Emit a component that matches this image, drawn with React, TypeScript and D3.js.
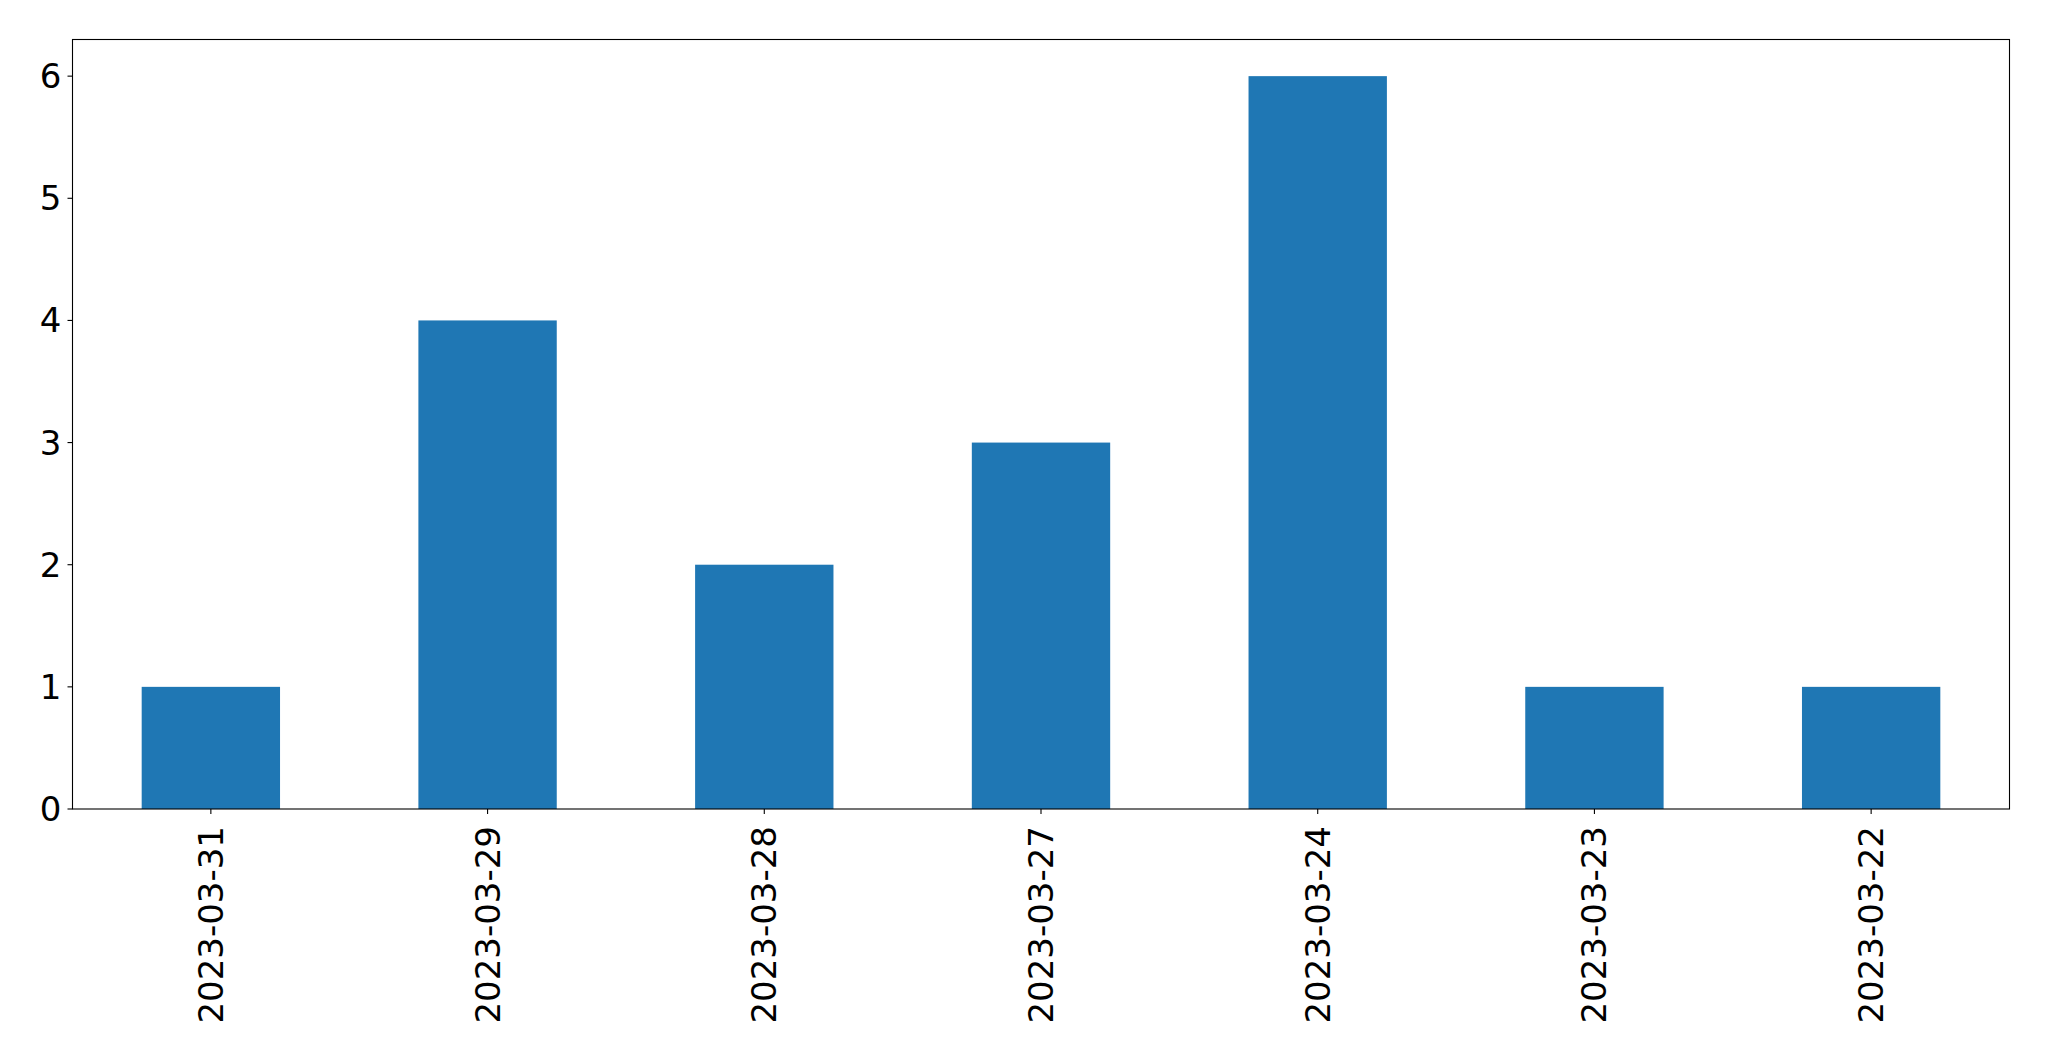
import * as d3 from "d3";
import React from "react";

// dates as they appear on the x axis (newest first)
const dates = [
  "2023-03-31",
  "2023-03-29",
  "2023-03-28",
  "2023-03-27",
  "2023-03-24",
  "2023-03-23",
  "2023-03-22",
];
const counts = [1, 4, 2, 3, 6, 1, 1];
const yTicks = [0, 1, 2, 3, 4, 5, 6];

const width = 2049;
const height = 1061;
const margin = { top: 39.5, right: 39.5, bottom: 252, left: 72.5 };
const fontSize = 34;
const barColor = "#1f77b4";

export default function App() {
  const innerW = width - margin.left - margin.right;
  const innerH = height - margin.top - margin.bottom;

  // pandas-style positional x: bars at 0..n-1, width 0.5, limits -0.5..n-0.5
  const x = d3
    .scaleLinear()
    .domain([-0.5, dates.length - 0.5])
    .range([margin.left, margin.left + innerW]);
  const yMax = (d3.max(counts) ?? 0) * 1.05;
  const y = d3
    .scaleLinear()
    .domain([0, yMax])
    .range([margin.top + innerH, margin.top]);

  const barW = x(0.5) - x(0);
  const tickLen = 5;

  return (
    <svg
      width={width}
      height={height}
      style={{ position: "absolute", left: 0, top: 0, background: "#fff" }}
      fontFamily="DejaVu Sans, sans-serif"
    >
      <rect x={0} y={0} width={width} height={height} fill="#fff" />
      {counts.map((v, i) => (
        <rect
          key={dates[i]}
          x={x(i) - barW / 2}
          y={y(v)}
          width={barW}
          height={y(0) - y(v)}
          fill={barColor}
        />
      ))}
      {/* y axis ticks */}
      {yTicks.map((t) => (
        <g key={t}>
          <line
            x1={margin.left - tickLen}
            x2={margin.left}
            y1={y(t)}
            y2={y(t)}
            stroke="#000"
            strokeWidth={1.1}
          />
          <text
            x={margin.left - tickLen - 6}
            y={y(t)}
            textAnchor="end"
            dominantBaseline="central"
            fontSize={fontSize}
            fill="#000"
          >
            {t}
          </text>
        </g>
      ))}
      {/* x axis ticks */}
      {dates.map((d, i) => {
        const px = x(i);
        const py = y(0) + tickLen + 12;
        return (
          <g key={d}>
            <line
              x1={px}
              x2={px}
              y1={y(0)}
              y2={y(0) + tickLen}
              stroke="#000"
              strokeWidth={1.1}
            />
            <text
              transform={`translate(${px},${py}) rotate(-90)`}
              textAnchor="end"
              dominantBaseline="central"
              fontSize={fontSize}
              fill="#000"
            >
              {d}
            </text>
          </g>
        );
      })}
      {/* frame */}
      <rect
        x={margin.left}
        y={margin.top}
        width={innerW}
        height={innerH}
        fill="none"
        stroke="#000"
        strokeWidth={1.1}
      />
    </svg>
  );
}
